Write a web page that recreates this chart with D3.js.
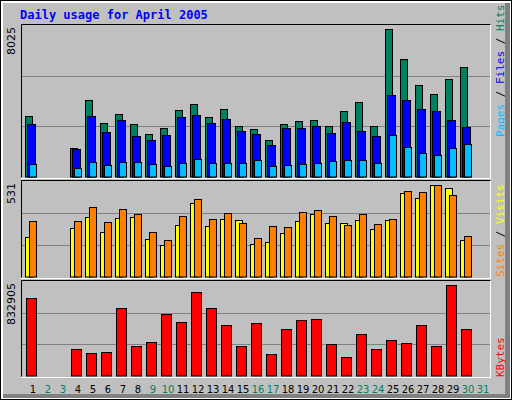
<!DOCTYPE html>
<html><head><meta charset="utf-8">
<script src="https://cdn.jsdelivr.net/npm/d3@7"></script>
<style>body{margin:0;background:#fff}</style>
</head><body>
<svg width="512" height="400"></svg>
<script>
// daily values (days 2, 3 and 31 have no data)
var days = d3.range(1, 32);
var weekend = [2, 3, 9, 10, 16, 17, 23, 24, 30, 31];
var hits  = [3205,0,0,1510,4052,2834,3311,2781,2251,2569,3523,3840,3152,3575,2675,2516,1933,2781,2940,2993,2675,3470,3946,2675,7813,6224,4847,4370,5165,5800,0];
var files = [2781,0,0,1457,3205,2357,2993,2145,1933,2198,3152,3258,2834,3046,2410,2251,1669,2569,2569,2675,2304,2887,2410,2145,4317,4052,3575,3470,2993,2622,0];
var pages = [662,0,0,450,768,609,768,768,662,556,715,927,715,715,715,874,556,609,662,715,821,874,874,715,2198,1563,1245,1139,1510,1722,0];
var visits = [221,0,0,271,332,249,326,332,210,177,288,409,282,321,315,182,194,243,310,348,299,299,315,265,315,465,437,509,492,205,0];
var sites  = [310,0,0,310,387,304,376,348,249,205,337,431,321,354,299,216,282,277,359,370,337,288,348,293,321,476,470,509,453,227,0];
var kbytes = [683000,0,0,237000,202000,210000,596000,263000,298000,544000,473000,736000,596000,447000,263000,465000,193000,412000,491000,500000,281000,167000,368000,237000,316000,289000,447000,263000,798000,412000,0];
var maxHits = 8025, maxSites = 531, maxKb = 832905;

var svg = d3.select("svg");
var font = "'DejaVu Sans Mono', monospace";

// outer frame with bevel
svg.append("rect").attr("x", 0).attr("y", 0).attr("width", 512).attr("height", 400).attr("fill", "#000");
svg.append("rect").attr("x", 1).attr("y", 1).attr("width", 510).attr("height", 398).attr("fill", "#fff");
svg.append("rect").attr("x", 3).attr("y", 3).attr("width", 507).attr("height", 395).attr("fill", "#808080");
svg.append("rect").attr("x", 3).attr("y", 3).attr("width", 502).attr("height", 391).attr("fill", "#c0c0c0");

svg.append("text").attr("x", 20).attr("y", 19).attr("fill", "#0000ff")
  .style("font-family", font).style("font-size", "12px").style("font-weight", "bold")
  .text("Daily usage for April 2005");

var x = d3.scaleBand().domain(days).range([25, 490]).paddingInner(0);
// each column is 15px wide
x.range([25, 25 + 15 * 31]);

function panel(top, bottom, max) {
  svg.append("rect").attr("x", 21).attr("y", top).attr("width", 470).attr("height", bottom - top)
    .attr("fill", "#c0c0c0").attr("stroke", "none");
  var y = d3.scaleLinear().domain([0, max]).range([bottom - 0.5, top + 0.5]);
  [1 / 3, 2 / 3].forEach(function (f) {
    svg.append("line").attr("x1", 21).attr("x2", 491).attr("y1", Math.round(y(max * f)) + 0.5).attr("y2", Math.round(y(max * f)) + 0.5)
      .attr("stroke", "#808080");
  });
  svg.append("path").attr("d", "M21.5," + (bottom + 0.5) + "V" + (top - 0.5) + "H491").attr("stroke", "#000").attr("fill", "none");
  svg.append("path").attr("d", "M21," + (bottom + 1.5) + "H490.5V" + (top - 0.5)).attr("stroke", "#fff").attr("fill", "none");
  svg.append("text").attr("transform", "translate(15," + (top + 2) + ") rotate(-90)")
    .attr("text-anchor", "end").style("font-family", "'DejaVu Sans', sans-serif").style("font-size", "11px")
    .text(max);
  return y;
}

function bars(y, data, off, w, color) {
  svg.append("g").selectAll("rect").data(days.filter(function (d) { return data[d - 1] > 0; }))
    .join("rect")
    .attr("x", function (d) { return x(d) + off + 0.5; })
    .attr("y", function (d) { return Math.round(y(data[d - 1])) + 0.5; })
    .attr("width", w)
    .attr("height", function (d) { return y(0) - Math.round(y(data[d - 1])); })
    .attr("fill", color).attr("stroke", "#000");
}

var y1 = panel(25, 177, maxHits);
bars(y1, hits, 0, 7, "#008060");
bars(y1, files, 2, 8, "#0000ff");
bars(y1, pages, 4, 7, "#00c0ff");

var y2 = panel(181, 277, maxSites);
bars(y2, visits, 0, 7, "#ffff00");
bars(y2, sites, 4, 7, "#ff8000");

var y3 = panel(281, 376, maxKb);
bars(y3, kbytes, 1, 10, "#ff0000");

// right side labels, drawn upward
function sideLabel(yBottom, parts) {
  var t = svg.append("text").attr("transform", "translate(504," + yBottom + ") rotate(-90)")
    .style("font-family", font).style("font-size", "11px");
  parts.forEach(function (p) { t.append("tspan").attr("fill", p[1]).text(p[0]); });
}
sideLabel(137, [["Pages", "#00c0ff"], [" / ", "#000"], ["Files", "#0000ff"], [" / ", "#000"], ["Hits", "#008060"]]);
sideLabel(277, [["Sites", "#ff8000"], [" / ", "#000"], ["Visits", "#ffff00"]]);
sideLabel(377, [["KBytes", "#ff0000"]]);

// day labels
svg.append("g").selectAll("text").data(days).join("text")
  .attr("x", function (d) { return x(d) + 8; })
  .attr("y", 393).attr("text-anchor", "middle")
  .attr("fill", function (d) { return weekend.indexOf(d) >= 0 ? "#008060" : "#000"; })
  .style("font-family", "'DejaVu Sans', sans-serif").style("font-size", "10px")
  .text(function (d) { return d; });
</script>
</body></html>
